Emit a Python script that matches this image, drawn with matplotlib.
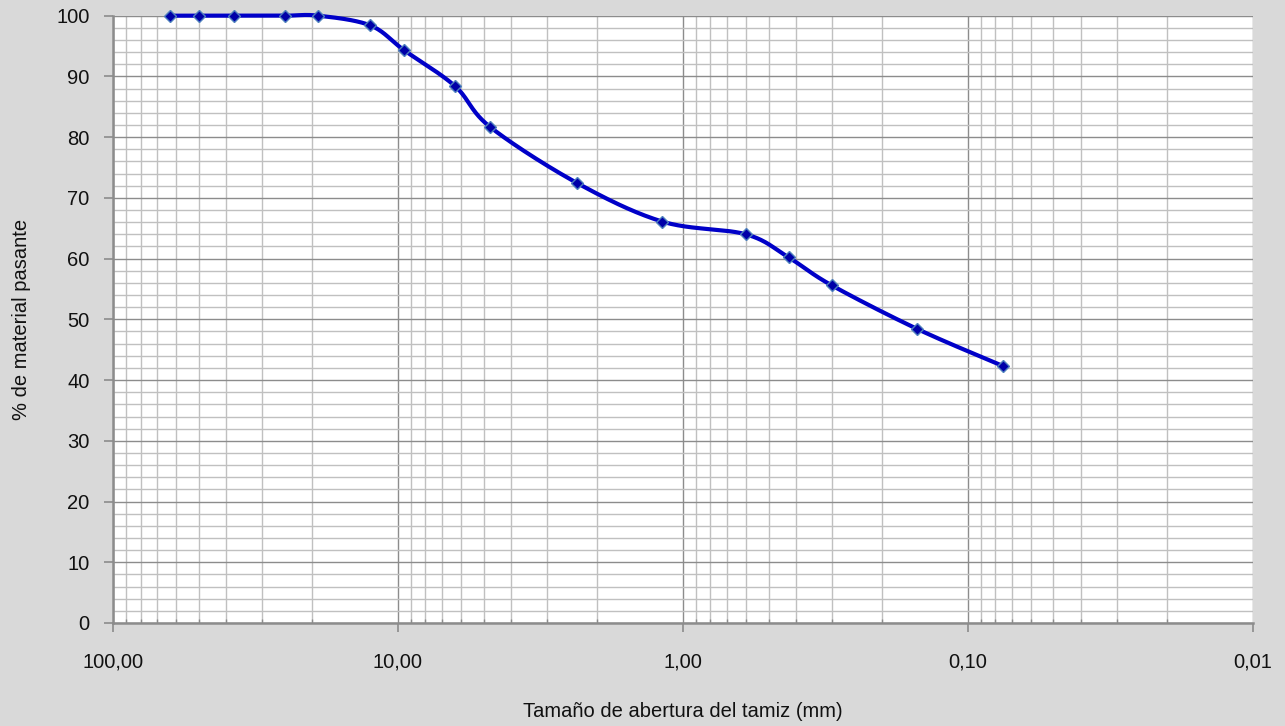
import numpy as np
import matplotlib
matplotlib.use("Agg")
import matplotlib.pyplot as plt
from matplotlib.ticker import FixedLocator, FixedFormatter, NullFormatter

# ---- data ----
sieve_mm = [63, 50, 37.5, 25, 19, 12.5, 9.5, 6.3, 4.75, 2.36, 1.18, 0.6, 0.425, 0.3, 0.15, 0.075]
passing = [100, 100, 100, 100, 100, 98.4, 94.3, 88.4, 81.7, 72.5, 66.1, 64.0, 60.2, 55.6, 48.4, 42.3]
x_ticks = [100, 10, 1, 0.1, 0.01]
x_tick_labels = ["100,00", "10,00", "1,00", "0,10", "0,01"]
y_ticks = list(range(0, 101, 10))
x_label = "Tamaño de abertura del tamiz (mm)"
y_label = "% de material pasante"

plt.rcParams["font.family"] = ["Liberation Sans", "DejaVu Sans"]

bg = "#d9d9d9"
fig = plt.figure(figsize=(12.85, 7.26), dpi=100, facecolor=bg)
ax = fig.add_axes([113 / 1285, 103 / 726, (1252.5 - 113) / 1285, (623 - 15.7) / 726])
ax.set_facecolor("white")

ax.set_xscale("log")
ax.set_xlim(100, 0.01)
ax.set_ylim(0, 100)

# smoothed line (uniform Catmull-Rom / Bezier, like Excel's smoothed line) in log-x / y space
lx = np.log10(np.array(sieve_mm, dtype=float))
py = np.array(passing, dtype=float)
P = np.column_stack([lx, py])
Pe = np.vstack([P[:1], P, P[-1:]])
curve = []
t = np.linspace(0, 1, 40)
for i in range(len(P) - 1):
    p0, p1, p2, p3 = Pe[i], Pe[i + 1], Pe[i + 2], Pe[i + 3]
    c1 = p1 + (p2 - p0) / 6.0
    c2 = p2 - (p3 - p1) / 6.0
    seg = ((1 - t) ** 3)[:, None] * p1 + (3 * (1 - t) ** 2 * t)[:, None] * c1 \
        + (3 * (1 - t) * t ** 2)[:, None] * c2 + (t ** 3)[:, None] * p2
    curve.append(seg)
curve = np.vstack(curve)
ax.plot(10 ** curve[:, 0], curve[:, 1], color="#0000c8", lw=3.0, solid_capstyle="round",
        zorder=3, clip_on=False)
ax.plot(sieve_mm, passing, linestyle="none", marker="D", markersize=6.5,
        markerfacecolor="#0000a8", markeredgecolor="#4f81bd", markeredgewidth=1.0,
        zorder=4, clip_on=False)

# grid
ax.xaxis.set_major_locator(FixedLocator(x_ticks))
ax.xaxis.set_major_formatter(FixedFormatter(x_tick_labels))
minor_x = [m * 10.0 ** e for e in range(-2, 2) for m in range(2, 10)]
ax.xaxis.set_minor_locator(FixedLocator(minor_x))
ax.xaxis.set_minor_formatter(NullFormatter())
ax.yaxis.set_major_locator(FixedLocator(y_ticks))
ax.yaxis.set_minor_locator(FixedLocator([v for v in range(0, 101, 2) if v % 10]))

ax.grid(which="major", color="#8c8c8c", lw=1.0, zorder=1)
ax.grid(which="minor", color="#c0c0c0", lw=1.0, zorder=1)
ax.set_axisbelow(True)

for s in ["top", "right"]:
    ax.spines[s].set_visible(False)
for s in ["left", "bottom"]:
    ax.spines[s].set_color("#8c8c8c")
    ax.spines[s].set_linewidth(1.8)

ax.tick_params(which="major", direction="out", length=6.5, width=1.2, color="#8c8c8c",
               labelsize=14.5, labelcolor="#111111")
ax.tick_params(which="minor", direction="in", length=3, width=1.0, color="#8c8c8c")
ax.tick_params(axis="x", which="major", pad=15)
ax.tick_params(axis="y", which="major", pad=10.5)
ax.tick_params(axis="y", which="minor", length=0)

ax.set_xlabel(x_label, fontsize=14.5, color="#111111", labelpad=22)
ax.set_ylabel(y_label, fontsize=14.5, color="#111111", labelpad=18)

fig.savefig("out.png", dpi=100, facecolor=bg)
